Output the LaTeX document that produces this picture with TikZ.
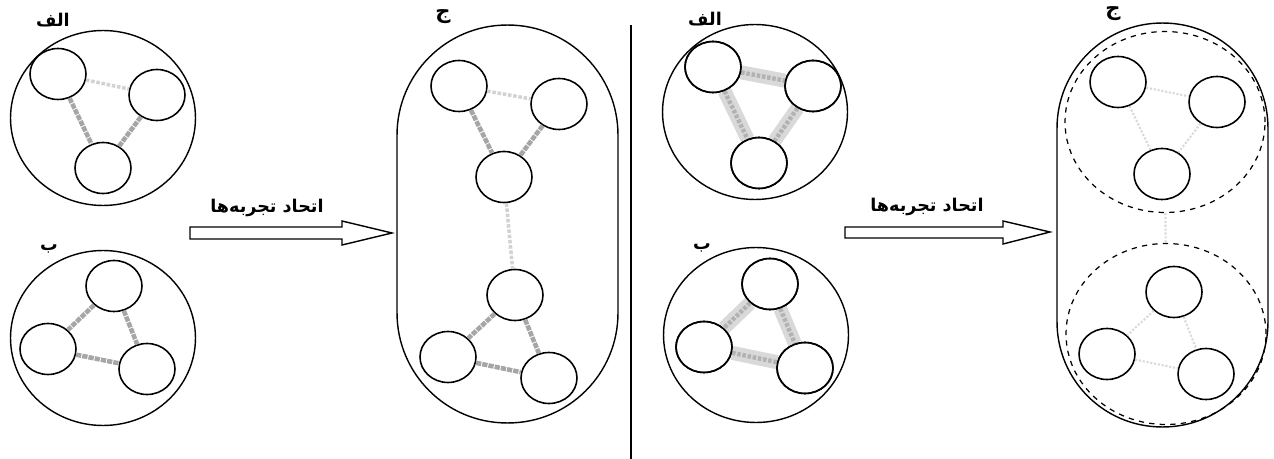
\documentclass[tikz,border=0pt]{standalone}
\usepackage{fontspec}
\usetikzlibrary{shapes.geometric}
\newfontfamily\arabe[Script=Arabic]{DejaVu Sans}
\TeXXeTstate=1
\tikzset{
  groupe/.style={ellipse, draw, line width=0.8pt, minimum width=3.7cm,
    minimum height=3.5cm, inner sep=0},
  sommet/.style={ellipse, draw, line width=0.9pt, fill=white,
    minimum width=1.12cm, minimum height=1.02cm, inner sep=0},
  capsule/.style={rectangle, draw, line width=0.8pt, inner sep=0},
  pointille/.style={ellipse, draw, dashed, line width=0.7pt, inner sep=0,
    minimum width=4cm, minimum height=3.62cm},
  titre/.style={font=\arabe\bfseries\fontsize{10}{12}\selectfont, inner sep=0},
  titregrand/.style={titre, font=\arabe\bfseries\fontsize{12}{14}\selectfont},
  lienfort/.style={line width=2.6pt, color=gray!70, dash pattern=on 3pt off 0.6pt},
  lienclair/.style={line width=2pt, color=gray!35, dash pattern=on 2pt off 1pt},
  bande/.style={line width=8pt, color=gray!30},
  bandecoeur/.style={line width=2.5pt, color=gray!60, dash pattern=on 2pt off 1pt},
  trace/.style={line width=1.2pt, color=gray!30, densely dotted},
  grossefleche/.style={draw, line width=0.8pt, fill=white, line join=miter},
  separation/.style={line width=0.6pt}
}

\begin{document}
\begin{tikzpicture}[x=0.02cm, y=-0.02cm]
  \useasboundingbox (0,0) rectangle (1274,459);

  % premier cas : deux groupes disjoints
  \node[groupe] (grpA1) at (103,118) {};
  \node[titre] (tA1) at (53,20) {\beginR الف\endR};
  \node[sommet] (a1) at (58,74) {};
  \node[sommet] (a2) at (157,95) {};
  \node[sommet] (a3) at (103,168) {};
  \draw[lienclair] (a1) -- (a2);
  \draw[lienfort] (a1) -- (a3);
  \draw[lienfort] (a2) -- (a3);

  \node[groupe] (grpB1) at (103,338) {};
  \node[titre] (tB1) at (49,249) {\beginR ب\endR};
  \node[sommet] (b1) at (114,286) {};
  \node[sommet] (b2) at (48,349) {};
  \node[sommet] (b3) at (147,369) {};
  \draw[lienfort] (b1) -- (b2);
  \draw[lienfort] (b1) -- (b3);
  \draw[lienfort] (b2) -- (b3);

  \draw[grossefleche] (190,227) -- (342,227) -- (342,221) -- (392,233)
    -- (342,245) -- (342,239) -- (190,239) -- cycle;
  \node[titre] (tF1) at (267,208) {\beginR اتحاد تجربه‌ها\endR};

  \node[capsule, rounded corners=2.2cm, minimum width=4.42cm,
    minimum height=7.96cm] (grpC1) at (507.5,224) {};
  \node[titregrand] (tC1) at (443,17) {\beginR ج\endR};
  \node[sommet] (c1) at (459,86) {};
  \node[sommet] (c2) at (559,104) {};
  \node[sommet] (c3) at (504,177) {};
  \node[sommet] (c4) at (515,295) {};
  \node[sommet] (c5) at (448,357) {};
  \node[sommet] (c6) at (549,378) {};
  \draw[lienclair] (c1) -- (c2);
  \draw[lienfort] (c1) -- (c3);
  \draw[lienfort] (c2) -- (c3);
  \draw[lienclair] (c3) -- (c4);
  \draw[lienfort] (c4) -- (c5);
  \draw[lienfort] (c4) -- (c6);
  \draw[lienfort] (c5) -- (c6);

  \draw[separation] (631,25) -- (631,459);

  % second cas : les liens restent dans chaque groupe
  \node[groupe] (grpA2) at (755,112) {};
  \node[titre] (tA2) at (705,19) {\beginR الف\endR};
  \node[sommet] (d1) at (713,67) {};
  \node[sommet] (d2) at (813,86) {};
  \node[sommet] (d3) at (759,163) {};
  \foreach \u/\v in {d1/d2, d1/d3, d2/d3} {
    \draw[bande] (\u) -- (\v);
    \draw[bandecoeur] (\u) -- (\v);
  }

  \node[groupe] (grpB2) at (756,335) {};
  \node[titre] (tB2) at (702,248) {\beginR ب\endR};
  \node[sommet] (e1) at (770,284) {};
  \node[sommet] (e2) at (704,347) {};
  \node[sommet] (e3) at (805,368) {};
  \foreach \u/\v in {e1/e2, e1/e3, e2/e3} {
    \draw[bande] (\u) -- (\v);
    \draw[bandecoeur] (\u) -- (\v);
  }
  % redessine les sommets par-dessus les bandes
  \foreach \n in {d1,d2,d3,e1,e2,e3}
    \draw[line width=0.9pt] (\n.center) ellipse [x radius=0.56cm, y radius=0.51cm];

  \draw[grossefleche] (845,227) -- (1003,227) -- (1003,221) -- (1050,232)
    -- (1003,244) -- (1003,238) -- (845,238) -- cycle;
  \node[titre] (tF2) at (927,207) {\beginR اتحاد تجربه‌ها\endR};

  \node[capsule, rounded corners=2.1cm, minimum width=4.22cm,
    minimum height=8.08cm] (grpC2) at (1162.5,225) {};
  \node[titregrand] (tC2) at (1113,14) {\beginR ج\endR};
  \node[pointille] (zoneH) at (1165,122) {};
  \node[pointille] (zoneB) at (1166,334) {};
  \node[sommet] (f1) at (1118,82) {};
  \node[sommet] (f2) at (1217,102) {};
  \node[sommet] (f3) at (1162,174) {};
  \node[sommet] (f4) at (1174,292) {};
  \node[sommet] (f5) at (1107,354) {};
  \node[sommet] (f6) at (1206,374) {};
  \foreach \u/\v in {f1/f2, f1/f3, f2/f3, f4/f5, f4/f6, f5/f6}
    \draw[trace] (\u) -- (\v);
  \draw[trace] (zoneH) -- (zoneB);
\end{tikzpicture}
\end{document}
